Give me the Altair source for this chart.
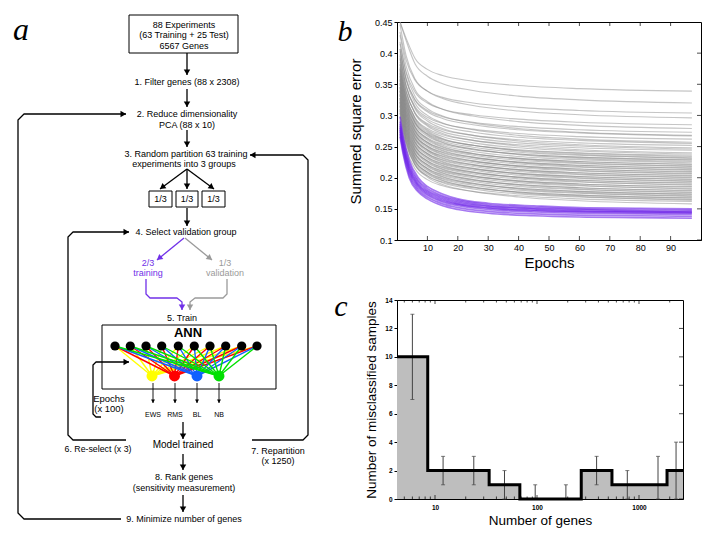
import math
import altair as alt
import pandas as pd

FONT = "Liberation Sans"
SERIF = "Liberation Serif"

# ------------------------------------------------------------------ panel b
GREY_EPOCHS = [1, 3, 6, 10, 15, 25, 40, 60, 97]
GREY_CURVES = [
    [0.450, 0.424, 0.391, 0.374, 0.364, 0.355, 0.348, 0.343, 0.339],
    [0.450, 0.420, 0.382, 0.363, 0.351, 0.340, 0.331, 0.325, 0.320],
    [0.434, 0.389, 0.356, 0.339, 0.329, 0.320, 0.313, 0.308, 0.304],
    [0.446, 0.396, 0.358, 0.339, 0.327, 0.316, 0.307, 0.301, 0.296],
    [0.415, 0.370, 0.337, 0.320, 0.310, 0.301, 0.294, 0.289, 0.285],
    [0.429, 0.379, 0.341, 0.322, 0.310, 0.299, 0.290, 0.284, 0.279],
    [0.403, 0.358, 0.325, 0.308, 0.298, 0.289, 0.282, 0.277, 0.273],
    [0.418, 0.368, 0.330, 0.311, 0.299, 0.288, 0.279, 0.273, 0.268],
    [0.407, 0.359, 0.324, 0.306, 0.295, 0.285, 0.277, 0.272, 0.267],
    [0.392, 0.347, 0.314, 0.297, 0.287, 0.278, 0.271, 0.266, 0.262],
    [0.407, 0.357, 0.319, 0.300, 0.288, 0.277, 0.268, 0.262, 0.257],
    [0.395, 0.347, 0.312, 0.294, 0.283, 0.273, 0.265, 0.260, 0.255],
    [0.382, 0.337, 0.304, 0.287, 0.277, 0.268, 0.261, 0.256, 0.252],
    [0.398, 0.348, 0.310, 0.291, 0.279, 0.268, 0.259, 0.253, 0.248],
    [0.386, 0.338, 0.303, 0.285, 0.274, 0.264, 0.256, 0.251, 0.246],
    [0.374, 0.329, 0.296, 0.279, 0.269, 0.260, 0.253, 0.248, 0.244],
    [0.390, 0.340, 0.302, 0.283, 0.271, 0.260, 0.251, 0.245, 0.240],
    [0.378, 0.330, 0.295, 0.277, 0.266, 0.256, 0.248, 0.243, 0.238],
    [0.366, 0.321, 0.288, 0.271, 0.261, 0.252, 0.245, 0.240, 0.236],
    [0.374, 0.326, 0.291, 0.273, 0.262, 0.252, 0.244, 0.239, 0.234],
    [0.382, 0.332, 0.294, 0.275, 0.263, 0.252, 0.243, 0.237, 0.232],
    [0.371, 0.323, 0.288, 0.270, 0.259, 0.249, 0.241, 0.236, 0.231],
    [0.359, 0.314, 0.281, 0.264, 0.254, 0.245, 0.238, 0.233, 0.229],
    [0.368, 0.320, 0.285, 0.267, 0.256, 0.246, 0.238, 0.233, 0.228],
    [0.376, 0.326, 0.288, 0.269, 0.257, 0.246, 0.237, 0.231, 0.226],
    [0.364, 0.316, 0.281, 0.263, 0.252, 0.242, 0.234, 0.229, 0.224],
    [0.352, 0.307, 0.274, 0.257, 0.247, 0.238, 0.231, 0.226, 0.222],
    [0.361, 0.313, 0.278, 0.260, 0.249, 0.239, 0.231, 0.226, 0.221],
    [0.369, 0.319, 0.281, 0.262, 0.250, 0.239, 0.230, 0.224, 0.219],
    [0.358, 0.310, 0.275, 0.257, 0.246, 0.236, 0.228, 0.223, 0.218],
    [0.346, 0.301, 0.268, 0.251, 0.241, 0.232, 0.225, 0.220, 0.216],
    [0.355, 0.307, 0.272, 0.254, 0.243, 0.233, 0.225, 0.220, 0.215],
    [0.363, 0.313, 0.275, 0.256, 0.244, 0.233, 0.224, 0.218, 0.213],
    [0.352, 0.304, 0.269, 0.251, 0.240, 0.230, 0.222, 0.217, 0.212],
    [0.340, 0.295, 0.262, 0.245, 0.235, 0.226, 0.219, 0.214, 0.210],
    [0.349, 0.301, 0.266, 0.248, 0.237, 0.227, 0.219, 0.214, 0.209],
    [0.357, 0.307, 0.269, 0.250, 0.238, 0.227, 0.218, 0.212, 0.207],
    [0.346, 0.298, 0.263, 0.245, 0.234, 0.224, 0.216, 0.211, 0.206],
    [0.334, 0.289, 0.256, 0.239, 0.229, 0.220, 0.213, 0.208, 0.204],
    [0.343, 0.295, 0.260, 0.242, 0.231, 0.221, 0.213, 0.208, 0.203],
    [0.351, 0.301, 0.263, 0.244, 0.232, 0.221, 0.212, 0.206, 0.201],
    [0.340, 0.292, 0.257, 0.239, 0.228, 0.218, 0.210, 0.205, 0.200],
    [0.328, 0.283, 0.250, 0.233, 0.223, 0.214, 0.207, 0.202, 0.198],
    [0.337, 0.289, 0.254, 0.236, 0.225, 0.215, 0.207, 0.202, 0.197],
    [0.345, 0.295, 0.257, 0.238, 0.226, 0.215, 0.206, 0.200, 0.195],
    [0.334, 0.286, 0.251, 0.233, 0.222, 0.212, 0.204, 0.199, 0.194],
    [0.322, 0.277, 0.244, 0.227, 0.217, 0.208, 0.201, 0.196, 0.192],
    [0.331, 0.283, 0.248, 0.230, 0.219, 0.209, 0.201, 0.196, 0.191],
    [0.339, 0.289, 0.251, 0.232, 0.220, 0.209, 0.200, 0.194, 0.189],
    [0.328, 0.280, 0.245, 0.227, 0.216, 0.206, 0.198, 0.193, 0.188],
    [0.316, 0.271, 0.238, 0.221, 0.211, 0.202, 0.195, 0.190, 0.186],
    [0.325, 0.277, 0.242, 0.224, 0.213, 0.203, 0.195, 0.190, 0.185],
    [0.333, 0.283, 0.245, 0.226, 0.214, 0.203, 0.194, 0.188, 0.183],
    [0.322, 0.274, 0.239, 0.221, 0.210, 0.200, 0.192, 0.187, 0.182],
    [0.310, 0.265, 0.232, 0.215, 0.205, 0.196, 0.189, 0.184, 0.180],
    [0.319, 0.271, 0.236, 0.218, 0.207, 0.197, 0.189, 0.184, 0.179],
    [0.327, 0.277, 0.239, 0.220, 0.208, 0.197, 0.188, 0.182, 0.177],
    [0.316, 0.268, 0.233, 0.215, 0.204, 0.194, 0.186, 0.181, 0.176],
    [0.304, 0.259, 0.226, 0.209, 0.199, 0.190, 0.183, 0.178, 0.174],
    [0.313, 0.265, 0.230, 0.212, 0.201, 0.191, 0.183, 0.178, 0.173],
    [0.321, 0.271, 0.233, 0.214, 0.202, 0.191, 0.182, 0.176, 0.171],
    [0.310, 0.262, 0.227, 0.209, 0.198, 0.188, 0.180, 0.175, 0.170],
    [0.298, 0.253, 0.220, 0.203, 0.193, 0.184, 0.177, 0.172, 0.168],
    [0.307, 0.259, 0.224, 0.206, 0.195, 0.185, 0.177, 0.172, 0.167],
    [0.315, 0.265, 0.227, 0.208, 0.196, 0.185, 0.176, 0.170, 0.165],
    [0.304, 0.256, 0.221, 0.203, 0.192, 0.182, 0.174, 0.169, 0.164],
    [0.292, 0.247, 0.214, 0.197, 0.187, 0.178, 0.171, 0.166, 0.162],
    [0.308, 0.258, 0.220, 0.201, 0.189, 0.178, 0.169, 0.163, 0.158],
]
PURPLE_EPOCHS = [1, 2, 4, 7, 10, 15, 20, 30, 45, 60, 80, 97]
PURPLE_CURVES = [
    [0.298, 0.268, 0.229, 0.200, 0.186, 0.174, 0.166, 0.159, 0.155, 0.152, 0.151, 0.150],
    [0.290, 0.262, 0.224, 0.196, 0.183, 0.171, 0.164, 0.157, 0.153, 0.150, 0.149, 0.148],
    [0.286, 0.258, 0.220, 0.193, 0.180, 0.169, 0.162, 0.155, 0.151, 0.149, 0.147, 0.146],
    [0.283, 0.255, 0.217, 0.190, 0.178, 0.167, 0.160, 0.154, 0.150, 0.147, 0.146, 0.145],
    [0.280, 0.252, 0.214, 0.188, 0.176, 0.165, 0.158, 0.152, 0.148, 0.146, 0.145, 0.144],
    [0.277, 0.249, 0.211, 0.186, 0.174, 0.163, 0.157, 0.151, 0.147, 0.145, 0.144, 0.143],
    [0.274, 0.246, 0.208, 0.183, 0.172, 0.161, 0.155, 0.149, 0.145, 0.143, 0.142, 0.141],
    [0.270, 0.242, 0.204, 0.180, 0.169, 0.158, 0.152, 0.146, 0.142, 0.140, 0.139, 0.138],
    [0.266, 0.238, 0.200, 0.177, 0.166, 0.155, 0.149, 0.143, 0.139, 0.137, 0.136, 0.135],
]
EPOCH_RANGE = [0, 100]
SSE_RANGE = [0.1, 0.45]
EPOCH_TICKS = [10, 20, 30, 40, 50, 60, 70, 80, 90]
SSE_TICKS = [0.1, 0.15, 0.2, 0.25, 0.3, 0.35, 0.4, 0.45]

# ------------------------------------------------------------------ panel c
GENES = [6, 12, 24, 48, 96, 192, 384, 768, 1536, 2308]
MISCLASSIFIED = [10, 2, 2, 1, 0, 0, 2, 1, 1, 2]
ERR_LO = [7, 1, 1, 0, 0, 0, 1, 0, 0, 0]
ERR_HI = [13, 3, 3, 2, 1, 1, 3, 2, 3, 4]
GENE_AXIS = [4.24, 2700]
MIS_RANGE = [0, 14]
GENE_TICKS = [10, 100, 1000]
MIS_TICKS = [0, 2, 4, 6, 8, 10, 12, 14]

# ------------------------------------------------------------------ panel a (flow diagram)
BOX_LEFT = [128, 148, 175, 201, 101]
BOX_RIGHT = [237, 171, 197, 224, 275]
BOX_TOP = [13, 189, 189, 189, 323]
BOX_BOTTOM = [51, 205, 205, 205, 387]

FLOW_TEXT = ["88 Experiments", "(63 Training + 25 Test)", "6567 Genes",
             "1. Filter genes (88 x 2308)", "2. Reduce dimensionality", "PCA (88 x 10)",
             "3. Random partition 63 training", "experiments into 3 groups",
             "1/3", "1/3", "1/3", "4. Select validation group",
             "2/3", "training", "1/3", "validation", "5. Train",
             "Epochs", "(x 100)", "EWS", "RMS", "BL", "NB",
             "Model trained", "6. Re-select (x 3)", "7. Repartition", "(x 1250)",
             "8. Rank genes", "(sensitivity measurement)", "9.  Minimize number of genes"]
FLOW_X = [183, 183, 183, 186, 186, 186, 185, 183, 159.5, 186, 212.5, 185,
          147, 147, 224, 224, 181, 108, 108, 152, 174, 196, 218,
          182, 97, 277, 277, 183, 183, 183]
FLOW_Y = [23, 33, 44, 80, 112, 123, 152, 162, 197, 197, 197, 230,
          261, 271, 261, 271, 316, 397, 407, 413, 413, 413, 413,
          443, 447, 449, 459, 475, 486, 517]
FLOW_SIZE = [9, 9, 9, 9, 9, 9, 9, 9, 9, 9, 9, 9,
             9, 9, 9, 9, 9, 9.5, 9.5, 7, 7, 7, 7,
             10, 8.8, 9, 9, 9, 9, 9]
FLOW_COLOR = ["black"] * 12 + ["#7030e8", "#7030e8", "#9a9a9a", "#9a9a9a"] + ["black"] * 14

BLACK_ARROWS = [
    [(186, 51), (186, 73)],
    [(186, 87), (186, 105)],
    [(186, 128), (186, 145)],
    [(186, 167), (159, 187)],
    [(186, 167), (186, 187)],
    [(186, 167), (213, 187)],
    [(186, 206), (186, 224)],
    [(100, 415), (95, 415), (92, 412), (92, 363), (95, 360), (128, 360)],
    [(125, 438), (72, 438), (67, 433), (67, 235), (72, 230), (128, 230)],
    [(251, 438), (302, 438), (307, 433), (307, 158), (302, 153), (249, 153)],
    [(120, 517), (23, 517), (17, 511), (17, 118), (23, 112), (125, 112)],
    [(182, 420), (182, 437)],
    [(182, 452), (182, 468)],
    [(182, 493), (182, 510)],
]
OUTPUT_ARROWS = [[(152, 381), (152, 401)], [(174, 381), (174, 401)],
                 [(196, 381), (196, 401)], [(218, 381), (218, 401)]]
PURPLE_ARROWS = [[(183, 236), (156, 258)],
                 [(145, 277), (145, 292), (149, 296), (176, 296), (181, 300), (181, 308)]]
GREY_ARROWS = [[(184, 236), (211, 258)],
               [(226, 277), (226, 292), (222, 296), (194, 296), (189, 300), (189, 308)]]

INPUT_X = [114, 129.3, 145, 160.7, 177.3, 193.3, 209, 224.7, 240.7, 256]
INPUT_Y = 344
OUTPUT_X = [151, 173.5, 196, 218]
OUTPUT_Y = 374
OUTPUT_COLORS = ["#ffff00", "#ff0000", "#1060ff", "#00e000"]

# ------------------------------------------------------------------ layout
A_X0, A_Y0, A_W, A_H = 8, 20, 310, 515
B_W, B_H = 304, 218
C_W, C_H = 286, 199

# ================================================================== build panel a
def path_rows(paths, color, width, head, tag):
    rows, heads = [], []
    for i, pts in enumerate(paths):
        for j, (px, py) in enumerate(pts):
            rows.append(dict(path=f"{tag}{i}", order=j, x=px, y=py, color=color, width=width))
        if head:
            (xa, ya), (xb, yb) = pts[-2], pts[-1]
            n = math.hypot(xb - xa, yb - ya)
            ux, uy = (xb - xa) / n, (yb - ya) / n
            ang = math.degrees(math.atan2(ux, -uy)) % 360
            back = math.sqrt(head) * 0.42
            heads.append(dict(x=xb - ux * back, y=yb - uy * back, angle=ang, color=color, size=head))
    return rows, heads

line_rows, head_rows = [], []
for paths, col, w, hs, tag in [(BLACK_ARROWS, "black", 1.3, 42, "k"),
                              (OUTPUT_ARROWS, "black", 0.9, 16, "o"),
                              (PURPLE_ARROWS, "#7030e8", 1.3, 42, "p"),
                              (GREY_ARROWS, "#9a9a9a", 1.3, 42, "g")]:
    r, h = path_rows(paths, col, w, hs, tag)
    line_rows += r
    head_rows += h
df_lines = pd.DataFrame(line_rows)
df_heads = pd.DataFrame(head_rows)

net_rows = []
for k, (ox, oc) in enumerate(zip(OUTPUT_X, OUTPUT_COLORS)):
    for i, ix in enumerate(INPUT_X):
        net_rows.append(dict(path=f"n{k}_{i}", order=0, x=ix, y=INPUT_Y, color=oc, k=k))
        net_rows.append(dict(path=f"n{k}_{i}", order=1, x=ox, y=OUTPUT_Y, color=oc, k=k))
df_net = pd.DataFrame(net_rows)

df_boxes = pd.DataFrame(dict(x0=BOX_LEFT, x1=BOX_RIGHT, y0=BOX_TOP, y1=BOX_BOTTOM))
df_text = pd.DataFrame(dict(t=FLOW_TEXT, x=FLOW_X, y=FLOW_Y, s=FLOW_SIZE, c=FLOW_COLOR))
df_in = pd.DataFrame(dict(x=INPUT_X, y=[INPUT_Y] * len(INPUT_X)))
df_out = pd.DataFrame(dict(x=OUTPUT_X, y=[OUTPUT_Y] * len(OUTPUT_X), c=OUTPUT_COLORS))

xs = alt.Scale(domain=[A_X0, A_X0 + A_W], nice=False, zero=False)
ys = alt.Scale(domain=[A_Y0, A_Y0 + A_H], nice=False, zero=False, reverse=True)
AX = lambda f: alt.X(f, scale=xs, axis=None)
AY = lambda f: alt.Y(f, scale=ys, axis=None)

a_boxes = alt.Chart(df_boxes).mark_rect(fill="white", stroke="black", strokeWidth=1).encode(
    x=AX("x0:Q"), x2="x1:Q", y=AY("y0:Q"), y2="y1:Q")
a_net = alt.Chart(df_net).mark_line(strokeWidth=1.4).encode(
    x=AX("x:Q"), y=AY("y:Q"), detail="path:N", order="order:Q",
    color=alt.Color("color:N", scale=None))
a_lines = alt.Chart(df_lines).mark_line(strokeJoin="round").encode(
    x=AX("x:Q"), y=AY("y:Q"), detail="path:N", order="order:Q",
    color=alt.Color("color:N", scale=None),
    strokeWidth=alt.StrokeWidth("width:Q", scale=None))
a_heads = alt.Chart(df_heads).mark_point(shape="triangle-up", filled=True, opacity=1).encode(
    x=AX("x:Q"), y=AY("y:Q"), angle=alt.Angle("angle:Q", scale=None),
    color=alt.Color("color:N", scale=None), size=alt.Size("size:Q", scale=None))
a_in = alt.Chart(df_in).mark_circle(size=85, color="black", opacity=1).encode(x=AX("x:Q"), y=AY("y:Q"))
a_out = alt.Chart(df_out).mark_circle(size=120, opacity=1).encode(
    x=AX("x:Q"), y=AY("y:Q"), color=alt.Color("c:N", scale=None))
a_text = alt.Chart(df_text).mark_text(font=FONT, baseline="middle", align="center").encode(
    x=AX("x:Q"), y=AY("y:Q"), text="t:N", size=alt.Size("s:Q", scale=None),
    color=alt.Color("c:N", scale=None))
a_ann = alt.Chart(pd.DataFrame(dict(t=["ANN"], x=[187], y=[331]))).mark_text(
    font=FONT, fontWeight="bold", fontSize=13, baseline="middle").encode(
    x=AX("x:Q"), y=AY("y:Q"), text="t:N")
a_letter = alt.Chart(pd.DataFrame(dict(t=["a"], x=[20], y=[38]))).mark_text(
    font=SERIF, fontStyle="italic", fontSize=32, baseline="alphabetic").encode(
    x=AX("x:Q"), y=AY("y:Q"), text="t:N")

panel_a = alt.layer(a_boxes, a_net, a_lines, a_heads, a_in, a_out, a_text, a_ann, a_letter).properties(
    width=A_W, height=A_H, view=alt.ViewBackground(stroke="transparent"))

# ================================================================== build panel b
grey_rows = [dict(curve=i, epoch=e, sse=v) for i, c in enumerate(GREY_CURVES)
             for e, v in zip(GREY_EPOCHS, c)]
purple_rows = [dict(curve=i, epoch=e, sse=v) for i, c in enumerate(PURPLE_CURVES)
               for e, v in zip(PURPLE_EPOCHS, c)]
bx = alt.X("epoch:Q", scale=alt.Scale(domain=EPOCH_RANGE, nice=False),
           axis=alt.Axis(values=EPOCH_TICKS, tickCount=len(EPOCH_TICKS), labelExpr="'' + datum.value",
                         title="Epochs", labelFontSize=9, ticks=False, labelPadding=3,
                         titleFontSize=15, titlePadding=3, labelOverlap=False, labelFlush=False))
by = alt.Y("sse:Q", scale=alt.Scale(domain=SSE_RANGE, nice=False, zero=False),
           axis=alt.Axis(values=SSE_TICKS, tickCount=len(SSE_TICKS), labelExpr="'' + datum.value",
                         title="Summed square error", labelFontSize=9, tickSize=3,
                         labelPadding=2, titleFontSize=15, titlePadding=11,
                         labelOverlap=False, labelFlush=False))
b_grey = alt.Chart(pd.DataFrame(grey_rows)).mark_line(
    color="#8c8c8c", strokeWidth=1.1, opacity=0.5, interpolate="monotone", clip=True).encode(
    x=bx, y=by, detail="curve:N", order="epoch:Q")
b_purple = alt.Chart(pd.DataFrame(purple_rows)).mark_line(
    color="#6a1fe8", strokeWidth=1.6, opacity=0.6, interpolate="monotone", clip=True).encode(
    x="epoch:Q", y="sse:Q", detail="curve:N", order="epoch:Q")
df_bx = pd.DataFrame(dict(epoch=EPOCH_TICKS))
df_by = pd.DataFrame(dict(sse=SSE_TICKS))
b_tick_top = alt.Chart(df_bx).mark_tick(orient="vertical", size=8, thickness=1, color="black", clip=True).encode(
    x="epoch:Q", y=alt.datum(SSE_RANGE[1]))
b_tick_bot = alt.Chart(df_bx).mark_tick(orient="vertical", size=8, thickness=1, color="black", clip=True).encode(
    x="epoch:Q", y=alt.datum(SSE_RANGE[0]))
b_tick_right = alt.Chart(df_by).mark_tick(orient="horizontal", size=8, thickness=1, color="black", clip=True).encode(
    y="sse:Q", x=alt.datum(EPOCH_RANGE[1]))
b_letter = alt.Chart(pd.DataFrame(dict(t=["b"]))).mark_text(
    font=SERIF, fontStyle="italic", fontSize=30, baseline="alphabetic").encode(
    text="t:N", x=alt.value(-52), y=alt.value(19))
panel_b = alt.layer(b_grey, b_purple, b_tick_top, b_tick_bot, b_tick_right, b_letter).properties(
    width=B_W, height=B_H)

# ================================================================== build panel c
df_step = pd.DataFrame(dict(genes=[GENE_AXIS[0]] + GENES + [GENE_AXIS[1]],
                            mis=[MISCLASSIFIED[0]] + MISCLASSIFIED + [MISCLASSIFIED[-1]]))
df_err = pd.DataFrame(dict(genes=GENES, lo=ERR_LO, hi=ERR_HI))
cx = alt.X("genes:Q", scale=alt.Scale(type="log", domain=GENE_AXIS, nice=False),
           axis=alt.Axis(values=GENE_TICKS, tickCount=len(GENE_TICKS), labelExpr="'' + datum.value",
                         title="Number of genes", labelFontSize=6.5, labelFontWeight="bold",
                         ticks=False, labelPadding=5, titleFontSize=13.5, titlePadding=3,
                         labelOverlap=False, labelFlush=False))
cy = alt.Y("mis:Q", scale=alt.Scale(domain=MIS_RANGE, nice=False),
           axis=alt.Axis(values=MIS_TICKS, tickCount=len(MIS_TICKS), labelExpr="'' + datum.value",
                         title="Number of misclassified samples", labelFontSize=6.5,
                         labelFontWeight="bold", tickSize=3, labelPadding=2,
                         titleFontSize=13.5, titlePadding=6, labelOverlap=False, labelFlush=False))
c_area = alt.Chart(df_step).mark_area(interpolate="step", color="#bebebe", opacity=1).encode(x=cx, y=cy)
c_err = alt.Chart(df_err).mark_rule(color="#444444", strokeWidth=1).encode(
    x="genes:Q", y="lo:Q", y2="hi:Q")
c_cap_lo = alt.Chart(df_err).mark_tick(color="#444444", orient="horizontal", size=4, thickness=1).encode(
    x="genes:Q", y="lo:Q")
c_cap_hi = alt.Chart(df_err).mark_tick(color="#444444", orient="horizontal", size=4, thickness=1).encode(
    x="genes:Q", y="hi:Q")
c_line = alt.Chart(df_step).mark_line(interpolate="step", color="black", strokeWidth=3).encode(
    x="genes:Q", y="mis:Q")
minor = [m * 10 ** p for p in range(0, 4) for m in range(2, 10)
         if GENE_AXIS[0] < m * 10 ** p < GENE_AXIS[1] and m * 10 ** p not in GENE_TICKS]
df_cmaj = pd.DataFrame(dict(genes=GENE_TICKS))
df_cmin = pd.DataFrame(dict(genes=minor))
df_cy = pd.DataFrame(dict(mis=MIS_TICKS))
c_ticks = []
for dfi, sz in [(df_cmaj, 8), (df_cmin, 5)]:
    for edge in MIS_RANGE:
        c_ticks.append(alt.Chart(dfi).mark_tick(orient="vertical", size=sz, thickness=1,
                                                color="black", clip=True).encode(
            x="genes:Q", y=alt.datum(edge)))
c_ticks.append(alt.Chart(df_cy).mark_tick(orient="horizontal", size=8, thickness=1,
                                          color="black", clip=True).encode(
    y="mis:Q", x=alt.datum(GENE_AXIS[1])))
c_letter = alt.Chart(pd.DataFrame(dict(t=["c"]))).mark_text(
    font=SERIF, fontStyle="italic", fontSize=30, baseline="alphabetic").encode(
    text="t:N", x=alt.value(-56), y=alt.value(16))
panel_c = alt.layer(c_area, c_err, c_cap_lo, c_cap_hi, c_line, *c_ticks, c_letter).properties(
    width=C_W, height=C_H)

right = alt.vconcat(panel_b, panel_c, spacing=20)
chart = alt.hconcat(panel_a, right, spacing=13).properties(
    padding={"left": 0, "top": 5, "right": 0, "bottom": 0}, background="white"
).configure_view(stroke="black", strokeWidth=1).configure_axis(
    labelFont=FONT, titleFont=FONT, titleFontWeight="normal", labelColor="black",
    titleColor="black", domainColor="black", tickColor="black", grid=False,
    labelOverlap=False)

chart.save("out.html", embed_options={"renderer": "svg", "actions": False})
